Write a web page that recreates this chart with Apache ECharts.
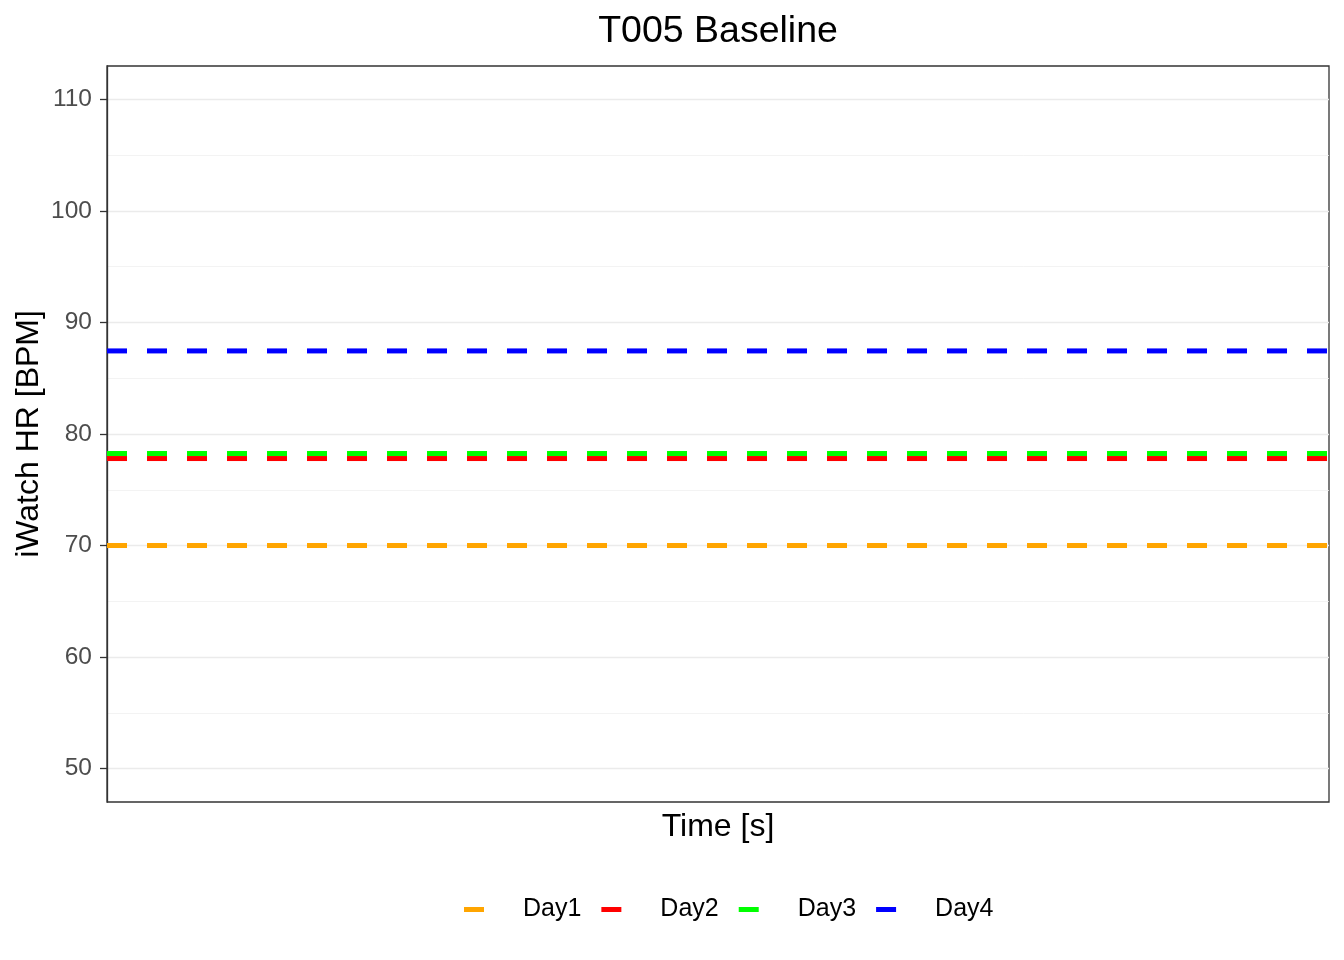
<!DOCTYPE html>
<html>
<head>
<meta charset="utf-8">
<title>T005 Baseline</title>
<script src="https://cdn.jsdelivr.net/npm/echarts@6/dist/echarts.min.js"></script>
<style>
  html, body { margin: 0; padding: 0; background: #fff; }
  #chart { width: 1344px; height: 960px; }
</style>
</head>
<body>
<div id="chart"></div>
<script>
// series (one flat baseline per day)
var days = ["Day1", "Day2", "Day3", "Day4"];
var hrValues = [70.0, 77.8, 78.25, 87.45];
var dayColors = ["#FFA500", "#FF0000", "#00FF00", "#0000FF"];

// y axis ticks
var majorTicks = [50, 60, 70, 80, 90, 100, 110];
var minorTicks = [55, 65, 75, 85, 95, 105];
var yMin = 47, yMax = 113;

var chart = echarts.init(document.getElementById("chart"));
var font = "Liberation Sans, Arial, sans-serif";

var series = days.map(function (d, i) {
  return {
    name: d,
    type: "line",
    yAxisIndex: 0,
    symbol: "none",
    silent: true,
    data: [[0, hrValues[i]], [1, hrValues[i]]],
    lineStyle: { color: dayColors[i], width: 5, type: [20, 20] },
    itemStyle: { color: dayColors[i] }
  };
});

var option = {
  animation: false,
  backgroundColor: "#fff",
  title: {
    text: "T005 Baseline",
    left: 713,
    textAlign: "center",
    top: 8,
    textStyle: { fontFamily: font, fontSize: 37.5, fontWeight: "normal", color: "#000" }
  },
  legend: {
    data: days,
    left: 459,
    top: 892,
    icon: "rect",
    itemWidth: 20,
    itemHeight: 5,
    itemGap: 20,
    textStyle: { fontFamily: font, fontSize: 25, color: "#000", padding: [2, 0, 0, 34] }
  },
  grid: {
    left: 107,
    right: 15,
    top: 66,
    bottom: 158,
    show: true,
    borderColor: "#333333",
    borderWidth: 1.3,
    backgroundColor: "transparent"
  },
  xAxis: {
    type: "value",
    min: 0,
    max: 1,
    name: "Time [s]",
    nameLocation: "middle",
    nameGap: 9,
    nameTextStyle: { fontFamily: font, fontSize: 32, color: "#000", verticalAlign: "top" },
    axisLine: { show: false },
    axisTick: { show: false },
    axisLabel: { show: false },
    splitLine: { show: false }
  },
  yAxis: [
    {
      type: "value",
      min: yMin,
      max: yMax,
      name: "iWatch HR [BPM]",
      nameLocation: "middle",
      nameGap: 62,
      nameMoveOverlap: false,
      nameTextStyle: { fontFamily: font, fontSize: 32, color: "#000" },
      axisLine: { show: true, lineStyle: { color: "#333333", width: 1.3 } },
      axisTick: { show: true, length: 7, customValues: majorTicks, lineStyle: { color: "#333333", width: 1.3 } },
      axisLabel: { customValues: majorTicks, margin: 15, fontFamily: font, fontSize: 24.5, color: "#4d4d4d" },
      splitLine: { show: true, lineStyle: { color: "#ebebeb", width: 1.4 } }
    },
    {
      type: "value",
      min: yMin,
      max: yMax,
      position: "left",
      axisLine: { show: false },
      axisTick: { show: false, customValues: minorTicks },
      axisLabel: { show: false, customValues: minorTicks },
      splitLine: { show: true, lineStyle: { color: "#f0f0f0", width: 0.8 } }
    }
  ],
  series: series
};

chart.setOption(option);
</script>
</body>
</html>
